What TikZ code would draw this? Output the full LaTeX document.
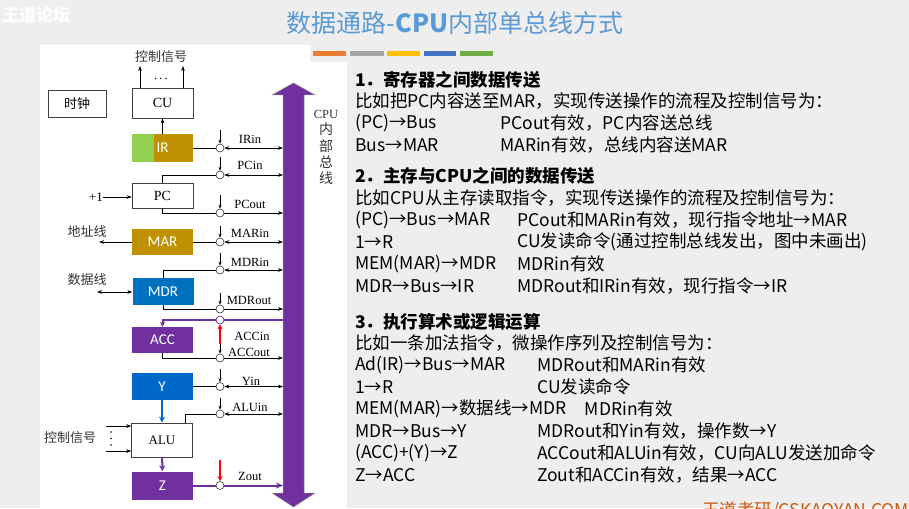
\documentclass[tikz,border=0pt]{standalone}
\usepackage{fontspec}
\setmainfont{Noto Sans CJK SC}
\newfontfamily\serifrm{Liberation Serif}
\newfontfamily\regfont{Carlito}
\usetikzlibrary{arrows.meta}

\definecolor{slidebg}{HTML}{EEEEEE}
\definecolor{titleblue}{HTML}{5B9BD5}
\definecolor{gold}{HTML}{BF9000}
\definecolor{irgreen}{HTML}{92D050}
\definecolor{regblue}{HTML}{0070C0}
\definecolor{yblue}{HTML}{0068C8}
\definecolor{regpurple}{HTML}{7030A0}
\definecolor{brandred}{HTML}{C55A11}
\definecolor{barorange}{HTML}{ED7D31}
\definecolor{bargray}{HTML}{A5A5A5}
\definecolor{baryellow}{HTML}{FFC000}
\definecolor{barblue}{HTML}{4472C4}
\definecolor{bargreen}{HTML}{70AD47}

\begin{document}
\begin{tikzpicture}[x=1pt, y=-1pt,
  box/.style={draw=black!75, line width=0.6pt, minimum width=61pt, inner sep=0pt,
              font=\serifrm\fontsize{14}{16}\selectfont},
  reg/.style={minimum width=61pt, inner sep=0pt, text=white,
              font=\regfont\fontsize{15}{17}\selectfont},
  sw/.style={circle, draw=black!80, fill=white, line width=0.6pt, minimum size=8pt, inner sep=0pt},
  sig/.style={-{Stealth[length=5pt, width=3.6pt]}, line width=0.6pt},
  both/.style={{Stealth[length=5pt, width=3.6pt]}-{Stealth[length=5pt, width=3.6pt]}, line width=0.6pt},
  ctl/.style={-{Stealth[length=4pt, width=3pt]}, line width=0.6pt},
  fat/.style={line width=2pt, -{Stealth[length=6pt, width=6pt]}},
  redarr/.style={draw=red, line width=1.8pt, -{Stealth[length=5pt, width=5pt]}},
  lab/.style={font=\serifrm\fontsize{12.5}{14}\selectfont, inner sep=0pt},
  cn/.style={font=\fontsize{13}{15}\selectfont, text=black!80, inner sep=0pt},
  txt/.style={anchor=west, inner sep=0pt, font=\fontsize{17.5}{20}\selectfont},
  head/.style={anchor=west, inner sep=0pt, font=\fontsize{17.5}{20}\selectfont\bfseries}
]
  % slide
  \clip (0,0) rectangle (909,508);
  \fill[slidebg] (0,0) rectangle (909,508);
  \fill[white] (40,45) -- (310,45) -- (310,62) -- (347,62) -- (347,508) -- (40,508) -- cycle;
  \node[font=\fontsize{17}{20}\selectfont\bfseries, text=white] (wm) at (36,15) {王道论坛};
  \node[font=\fontsize{25}{28}\selectfont, text=titleblue] (title) at (455,23) {数据通路-\textbf{CPU}内部单总线方式};
  \fill[barorange] (313,51.5) rectangle (346,56);
  \fill[bargray]   (350,51.5) rectangle (384,56);
  \fill[baryellow] (387,51.5) rectangle (420,56);
  \fill[barblue]   (424,51.5) rectangle (456,56);
  \fill[bargreen]  (460,51.5) rectangle (493,56);

  % registers
  \node[box, minimum width=58pt, minimum height=27pt, font=\fontsize{13}{15}\selectfont] (clk) at (77,103.5) {时钟};
  \node[box, minimum height=30pt] (CU) at (162.5,103) {CU};
  \node[reg, fill=gold, minimum height=28pt,
        path picture={\fill[irgreen] (path picture bounding box.north west) rectangle ([xshift=22pt]path picture bounding box.south west);}]
        (IR) at (162.5,148) {IR};
  \node[box, minimum height=25pt] (PC) at (162.5,195.5) {PC};
  \node[reg, fill=gold, minimum height=26pt] (MAR) at (162.5,242) {MAR};
  \node[reg, fill=regblue, minimum height=27pt] (MDR) at (163,291.5) {MDR};
  \node[reg, fill=regpurple, minimum height=26pt] (ACC) at (162.5,340) {ACC};
  \node[reg, fill=yblue, minimum height=27pt] (Y) at (162,386.5) {Y};
  \node[box, minimum height=34pt, font=\serifrm\fontsize{13}{15}\selectfont] (ALU) at (162,440) {ALU};
  \node[reg, fill=regpurple, minimum height=28pt] (Z) at (162.5,485.5) {Z};

  % bus
  \filldraw[fill=regpurple, draw=black!45, line width=0.5pt]
    (283,95) -- (272,95) -- (293.5,83) -- (315,95) -- (304,95) -- (304,493)
    -- (315,493) -- (293.5,507) -- (272,493) -- (283,493) -- cycle;
  \coordinate (busL) at (283,0);
  \node[font=\fontsize{14}{16.3}\selectfont, align=center, inner sep=0pt, text=black!80] (busname) at (326,147.5)
    {{\serifrm\fontsize{12.5}{16.3}\selectfont CPU}\\内\\部\\总\\线};

  % switches
  \node[sw] (cIR)     at (220,148) {};
  \node[sw] (cPCin)   at (220,175) {};
  \node[sw] (cPCout)  at (220,213) {};
  \node[sw] (cMAR)    at (220,242) {};
  \node[sw] (cMDRin)  at (220,270) {};
  \node[sw] (cMDRout) at (220,309) {};
  \node[sw, draw=regpurple!60!black] (cACCin) at (220,320) {};
  \node[sw] (cACCout) at (220,358) {};
  \node[sw] (cY)      at (220,386.5) {};
  \node[sw] (cALU)    at (220,414) {};
  \node[sw] (cZ)      at (220,485.5) {};

  \node[lab] (lIRin)   at (250,139) {IRin};
  \node[lab] (lPCin)   at (250,165) {PCin};
  \node[lab] (lPCout)  at (250,204) {PCout};
  \node[lab] (lMARin)  at (250,233) {MARin};
  \node[lab] (lMDRin)  at (250,262) {MDRin};
  \node[lab] (lMDRout) at (249,300) {MDRout};
  \node[lab] (lACCin)  at (252,336) {ACCin};
  \node[lab] (lACCout) at (249,352) {ACCout};
  \node[lab] (lYin)    at (251,381) {Yin};
  \node[lab] (lALUin)  at (250,407) {ALUin};
  \node[lab] (lZout)   at (250,476) {Zout};

  % bus connections
  \draw[both] (IR) -- (cIR) -- (cIR -| busL);
  \draw[both] (PC) |- (cPCin) -- (cPCin -| busL);
  \draw[sig]  (PC) |- (cPCout) -- (cPCout -| busL);
  \draw[both] (MAR) -- (cMAR) -- (cMAR -| busL);
  \draw[both] (MDR) |- (cMDRin) -- (cMDRin -| busL);
  \draw[sig]  (MDR) |- (cMDRout) -- (cMDRout -| busL);
  \draw[line width=2pt, draw=regpurple, -{Stealth[length=5pt, width=5pt]}]
    (cACCin -| busL) -- (cACCin) -| (ACC);
  \draw[sig]  (ACC) |- (cACCout) -- (cACCout -| busL);
  \draw[both] (Y) -- (cY) -- (cY -| busL);
  \draw[both] ([xshift=-8pt]ALU.north east) |- (cALU) -- (cALU -| busL);
  \draw[line width=2pt, draw=regpurple, -{Stealth[length=7pt, width=6pt]}]
    (Z) -- (cZ) -- (cZ -| busL);

  % control inputs
  \foreach \s/\dl in {cIR/14, cPCin/14, cPCout/14, cMAR/12, cMDRin/13, cMDRout/12, cACCout/10, cY/13, cALU/12}
    \draw[ctl] ([yshift=\dl pt]\s.north) -- (\s.north);
  \coordinate (redA) at (220,344);
  \coordinate (redB) at (220,460);
  \draw[redarr] (redA) -- (cACCin);
  \draw[redarr] (redB) -- (cZ);

  % inner paths
  \draw[sig] (IR) -- (CU);
  \draw[fat, draw=yblue] (Y) -- (ALU);
  \draw[fat, draw=regpurple] (ALU) -- (Z);

  % outside signals
  \node[cn] (ctltop) at (161,57) {控制信号};
  \coordinate (ctlA) at (140,66);
  \coordinate (ctlB) at (183,66);
  \draw[sig] (CU.north -| ctlA) -- (ctlA);
  \draw[sig] (CU.north -| ctlB) -- (ctlB);
  \node[lab] (cudots) at (161,79) {.\,.\,.};
  \node[lab, font=\serifrm\fontsize{13}{15}\selectfont] (plus1) at (96,197) {+1};
  \draw[sig] (plus1) -- (plus1 -| PC.west);
  \node[cn] (addr) at (87,232) {地址线};
  \coordinate (addrend) at (99,242);
  \draw[sig] (MAR) -- (addrend);
  \node[cn] (data) at (87,280) {数据线};
  \coordinate (dataend) at (97,292);
  \draw[both] (dataend) -- (dataend -| MDR.west);
  \node[cn] (ctlalu) at (70,438) {控制信号};
  \coordinate (aluA) at (106,426);
  \coordinate (aluB) at (106,451);
  \draw[sig] (aluA) -- (aluA -| ALU.west);
  \draw[sig] (aluB) -- (aluB -| ALU.west);
  \fill (111,432) circle (0.8);
  \fill (111,438.5) circle (0.8);
  \fill (111,445) circle (0.8);

  % text on the right
  \node[head] (h1)  at (355,80)  {1．寄存器之间数据传送};
  \node[txt]  (s1)  at (355,101) {比如把PC内容送至MAR，实现传送操作的流程及控制信号为：};
  \node[txt]  (a1)  at (355,123) {(PC)→Bus};
  \node[txt]  (b1)  at (500,123) {PCout有效，PC内容送总线};
  \node[txt]  (a2)  at (355,145) {Bus→MAR};
  \node[txt]  (b2)  at (500,145) {MARin有效，总线内容送MAR};

  \node[head] (h2)  at (355,176) {2．主存与CPU之间的数据传送};
  \node[txt]  (s2)  at (355,198) {比如CPU从主存读取指令，实现传送操作的流程及控制信号为：};
  \node[txt]  (a3)  at (355,220) {(PC)→Bus→MAR};
  \node[txt]  (b3)  at (517,220) {PCout和MARin有效，现行指令地址→MAR};
  \node[txt]  (a4)  at (355,242) {1→R};
  \node[txt]  (b4)  at (517,242) {CU发读命令(通过控制总线发出，图中未画出)};
  \node[txt]  (a5)  at (355,264) {MEM(MAR)→MDR};
  \node[txt]  (b5)  at (517,264) {MDRin有效};
  \node[txt]  (a6)  at (355,286) {MDR→Bus→IR};
  \node[txt]  (b6)  at (517,286) {MDRout和IRin有效，现行指令→IR};

  \node[head] (h3)  at (355,322) {3．执行算术或逻辑运算};
  \node[txt]  (s3)  at (355,343) {比如一条加法指令，微操作序列及控制信号为：};
  \node[txt]  (a7)  at (355,365) {Ad(IR)→Bus→MAR};
  \node[txt]  (b7)  at (537,365) {MDRout和MARin有效};
  \node[txt]  (a8)  at (355,387) {1→R};
  \node[txt]  (b8)  at (537,387) {CU发读命令};
  \node[txt]  (a9)  at (355,409) {MEM(MAR)→数据线→MDR};
  \node[txt]  (b9)  at ([xshift=18pt]a9.east) {MDRin有效};
  \node[txt]  (a10) at (355,431) {MDR→Bus→Y};
  \node[txt]  (b10) at (537,431) {MDRout和Yin有效，操作数→Y};
  \node[txt]  (a11) at (355,453) {(ACC)+(Y)→Z};
  \node[txt]  (b11) at (537,453) {ACCout和ALUin有效，CU向ALU发送加命令};
  \node[txt]  (a12) at (355,475) {Z→ACC};
  \node[txt]  (b12) at (537,475) {Zout和ACCin有效，结果→ACC};

  \node[txt, text=brandred] (site) at (702,511) {王道考研/CSKAOYAN.COM};
\end{tikzpicture}
\end{document}
